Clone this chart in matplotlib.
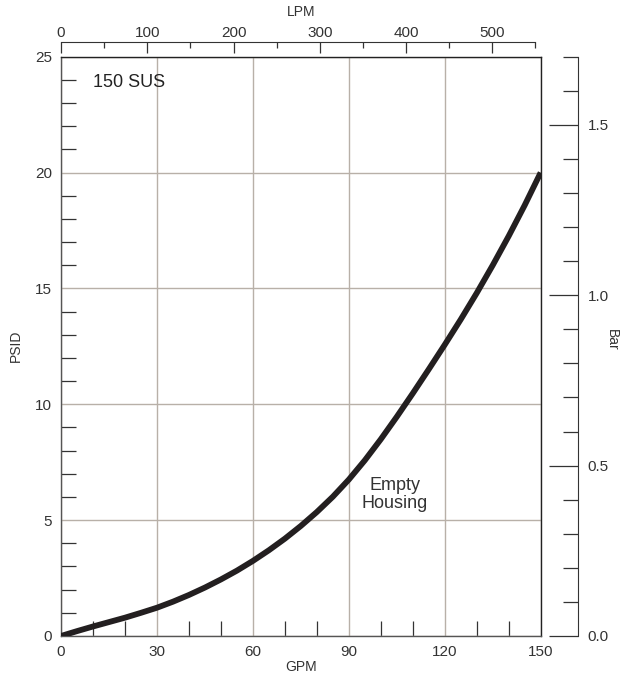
import numpy as np
import matplotlib.pyplot as plt
from matplotlib.ticker import MultipleLocator

plt.rcParams['font.family'] = ['Liberation Sans', 'DejaVu Sans']

# values
gpm = [0, 5, 10, 15, 20, 25, 30, 35, 40, 45, 50, 55, 60, 65, 70, 75,
       80, 85, 90, 95, 100, 105, 110, 115, 120, 125, 130, 135, 140, 145, 150]
psid = [0, 0.21, 0.41, 0.6, 0.79, 1.0, 1.22, 1.48, 1.77, 2.09, 2.44, 2.82, 3.24, 3.7, 4.2, 4.75,
        5.35, 6.01, 6.75, 7.58, 8.49, 9.46, 10.47, 11.51, 12.57, 13.66, 14.8, 16.0, 17.26,
        18.59, 20.0]

curve_label = 'Empty\nHousing'
fluid_label = '150 SUS'

txt = '#333333'
grid_c = '#b8b0a8'

fig = plt.figure(figsize=(6.39, 6.75), dpi=100)
ax = fig.add_axes([0.0955, 0.0578, 0.7506, 0.8581])

ax.set_xlim(0, 150)
ax.set_ylim(0, 25)
ax.xaxis.set_major_locator(MultipleLocator(30))
ax.xaxis.set_minor_locator(MultipleLocator(10))
ax.yaxis.set_major_locator(MultipleLocator(5))
ax.yaxis.set_minor_locator(MultipleLocator(1))
ax.tick_params(which='major', direction='in', length=0, pad=6.5, labelsize=11, labelcolor=txt)
ax.tick_params(which='minor', direction='in', length=10.5, width=0.9, color='#333333')
ax.grid(True, which='major', color=grid_c, lw=1.0)
for s in ['left', 'bottom']:
    ax.spines[s].set_color('#555555')
for s in ['top', 'right']:
    ax.spines[s].set_color('#222222')
for s in ax.spines.values():
    s.set_linewidth(1.0)

ax.plot(gpm, psid, color='#231f20', lw=4.2, solid_capstyle='butt',
        solid_joinstyle='round', zorder=5)

ax.text(10, 23.9, fluid_label, fontsize=13, color='#222222', va='center', ha='left')
ax.text(104.4, 6.1, curve_label, fontsize=13, color='#333333', va='center', ha='center',
        linespacing=1.1)

# top LPM axis
top = ax.twiny()
top.set_xlim(0, 556)
top.spines['top'].set_position(('outward', 10.8))
top.spines['top'].set_bounds(0, 550)
top.spines['top'].set_color('#333333')
for s in ['left', 'right', 'bottom']:
    top.spines[s].set_visible(False)
top.xaxis.set_major_locator(MultipleLocator(100))
top.xaxis.set_minor_locator(MultipleLocator(50))
top.tick_params(which='major', direction='in', length=8, width=0.9, pad=1, labelsize=11,
                labelcolor=txt, color='#333333')
top.tick_params(which='minor', direction='in', length=4.3, width=0.9, color='#333333')

# right Bar axis
right = ax.twinx()
right.set_ylim(0, 1.7001)
right.spines['right'].set_position(('outward', 26.9))
right.spines['right'].set_color('#333333')
for s in ['left', 'top', 'bottom']:
    right.spines[s].set_visible(False)
right.yaxis.set_major_locator(MultipleLocator(0.5))
right.yaxis.set_minor_locator(MultipleLocator(0.1))
right.yaxis.set_major_formatter(lambda v, p: f'{v:.1f}')
right.tick_params(which='major', direction='in', length=20.9, width=0.9, pad=7, labelsize=11,
                  labelcolor=txt, color='#333333')
right.tick_params(which='minor', direction='in', length=10.8, width=0.9, color='#333333')

fig.text(301 / 639, 1 - 12 / 675, 'LPM', fontsize=10, color=txt, ha='center', va='center')
fig.text(301 / 639, 1 - 667 / 675, 'GPM', fontsize=10, color=txt, ha='center', va='center')
fig.text(16 / 639, 1 - 346 / 675, 'PSID', fontsize=10, color=txt, ha='center', va='center',
         rotation=90)
fig.text(612 / 639, 1 - 340 / 675, 'Bar', fontsize=10, color=txt, ha='center', va='center',
         rotation=270)

fig.savefig('out.png', dpi=100)
